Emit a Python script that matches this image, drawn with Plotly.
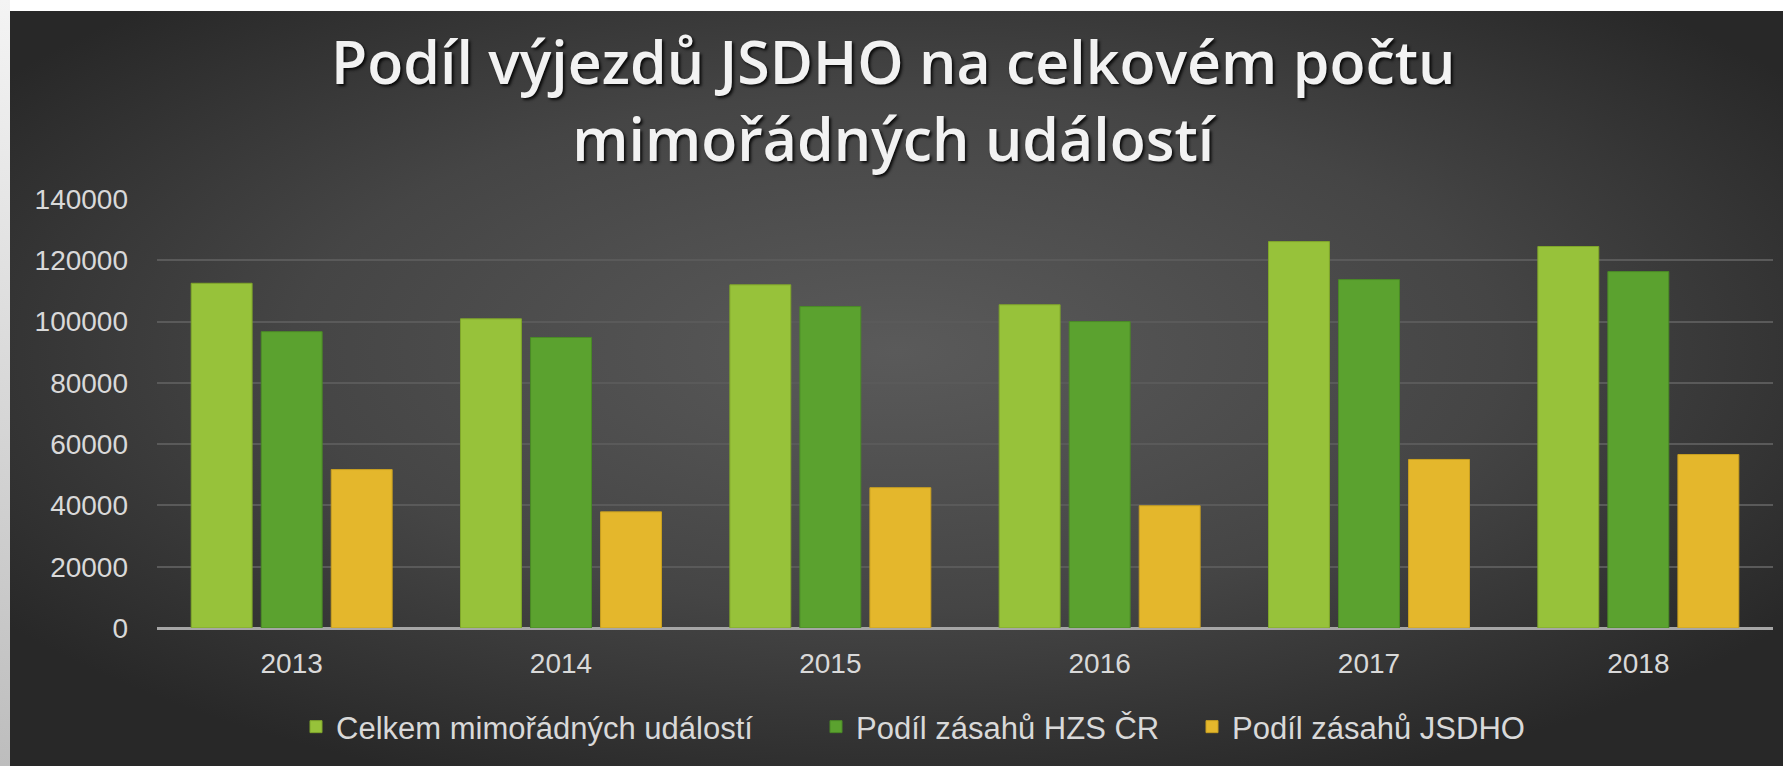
import base64
import plotly.graph_objects as go

years = ["2013", "2014", "2015", "2016", "2017", "2018"]
celkem = [112500, 100900, 112000, 105500, 126100, 124500]
hzs = [96700, 94800, 104900, 100000, 113700, 116300]
jsdho = [51700, 37900, 45800, 39900, 55000, 56600]
series_names = ["Celkem mimořádných událostí", "Podíl zásahů HZS ČR", "Podíl zásahů JSDHO"]
y_ticks = [0, 20000, 40000, 60000, 80000, 100000, 120000, 140000]
title_lines = ["Podíl výjezdů JSDHO na celkovém počtu", "mimořádných událostí"]

W, H = 1783, 766
ML, MR, MT, MB = 157, 10, 199, 138
pw = W - ML - MR
ph = H - MT - MB


def px_x(x):
    return (x - ML) / pw


def px_y(y):
    return (MT + ph - y) / ph


svg = f"""<svg xmlns='http://www.w3.org/2000/svg' width='{W}' height='{H}' viewBox='0 0 {W} {H}'>
<defs>
<radialGradient id='g' cx='0.5' cy='0.45' r='0.62'>
<stop offset='0' stop-color='#5a5a5a'/>
<stop offset='0.55' stop-color='#454545'/>
<stop offset='1' stop-color='#282828'/>
</radialGradient>
<linearGradient id='lb' x1='0' y1='0' x2='0' y2='1'>
<stop offset='0' stop-color='#f4f4f4'/>
<stop offset='1' stop-color='#bdbdbd'/>
</linearGradient>
</defs>
<rect x='0' y='0' width='{W}' height='{H}' fill='#ffffff'/>
<rect x='0' y='0' width='10' height='{H}' fill='url(#lb)'/>
<rect x='10' y='11' width='{W-10}' height='{H-11}' fill='url(#g)'/>
</svg>"""
src = "data:image/svg+xml;base64," + base64.b64encode(svg.encode("utf-8")).decode()

colors = ["#97c23a", "#5ba22f", "#e4b72c"]
lines = ["#7fa62a", "#4a8a26", "#c9a020"]
data = [celkem, hzs, jsdho]
legend_ids = ["legend", "legend2", "legend3"]
legend_text_x = [336, 856, 1232]

fig = go.Figure()
for name, vals, c, lc, lid in zip(series_names, data, colors, lines, legend_ids):
    fig.add_trace(go.Bar(x=years, y=vals, name=name, legend=lid,
                         marker=dict(color=c, line=dict(color=lc, width=1))))

tick_font = dict(family="Liberation Sans, Arial, sans-serif", size=28, color="#d9d9d9")
leg_font = dict(family="Liberation Sans, Arial, sans-serif", size=31, color="#d9d9d9")

legends = {}
for lid, tx in zip(legend_ids, legend_text_x):
    legends[lid] = dict(
        orientation="h",
        x=px_x(tx - 40), xanchor="left",
        y=px_y(727), yanchor="middle",
        font=leg_font, bgcolor="rgba(0,0,0,0)",
        itemwidth=30,
    )

title_font = dict(family="Open Sans, sans-serif", size=59, color="#f2f2f2",
                  weight=600, shadow="2px 2px 3px rgba(0,0,0,0.85)")
annotations = [
    dict(text="<br>".join(title_lines), x=px_x(893), y=px_y(100), xref="paper", yref="paper",
         xanchor="center", yanchor="middle", align="center", showarrow=False, font=title_font),
]

fig.update_layout(
    width=W, height=H,
    margin=dict(l=ML, r=MR, t=MT, b=MB, pad=0),
    paper_bgcolor="#ffffff",
    plot_bgcolor="rgba(0,0,0,0)",
    barmode="group",
    bargap=0.22,
    bargroupgap=0.13,
    showlegend=True,
    annotations=annotations,
    images=[dict(
        source=src, xref="paper", yref="paper",
        x=-ML / pw, y=1 + MT / ph,
        sizex=W / pw, sizey=H / ph,
        xanchor="left", yanchor="top",
        sizing="stretch", layer="below",
    )],
    xaxis=dict(
        showgrid=False, zeroline=False, showline=False,
        tickfont=tick_font, ticks="", ticklabelstandoff=16,
    ),
    yaxis=dict(
        range=[0, 140000], tickvals=y_ticks, ticktext=[str(v) for v in y_ticks],
        showgrid=True, gridcolor="#5a5a5a", gridwidth=1.5,
        zeroline=True, zerolinecolor="#a6a6a6", zerolinewidth=2.5,
        showline=False, ticks="", tickfont=tick_font, ticklabelstandoff=28,
    ),
    **legends,
)

fig.write_html("out.html")
